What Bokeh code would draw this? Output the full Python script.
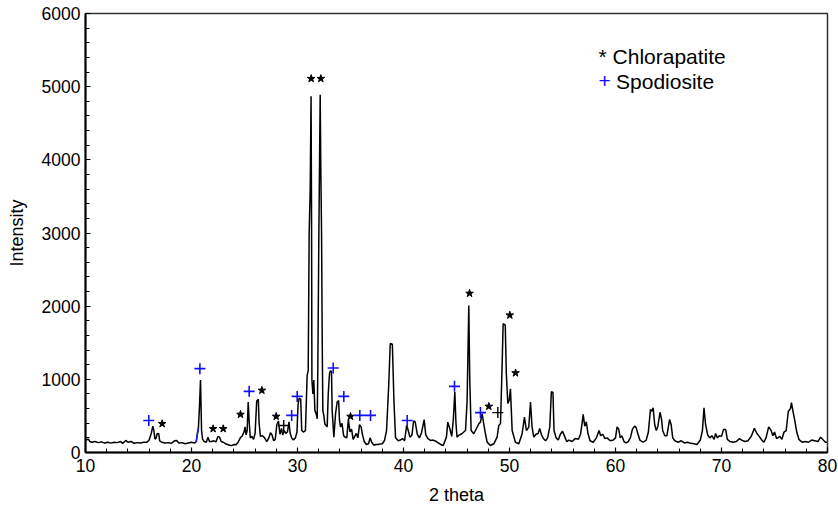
from bokeh.plotting import figure
from bokeh.models import FixedTicker, ColumnDataSource
from bokeh.core.properties import value
from bokeh.embed import file_html
from bokeh.resources import INLINE

# ---- data ----
two_theta = [
    10.0, 10.1, 10.3, 10.4, 10.6, 10.9, 11.2, 11.5, 11.8, 12.1, 12.4, 12.7, 13.0, 13.3, 13.5, 13.8,
    14.0, 14.3, 14.6, 14.9, 15.2, 15.5, 15.8, 16.0, 16.2, 16.35, 16.45, 16.55, 16.65, 16.75, 16.9,
    17.0, 17.2, 17.5, 17.8, 18.1, 18.4, 18.6, 18.8, 19.1, 19.4, 19.7, 20.0, 20.3, 20.45, 20.55,
    20.65, 20.75, 20.85, 20.95, 21.05, 21.2, 21.4, 21.55, 21.7, 21.9, 22.1, 22.3, 22.5, 22.65, 22.8,
    23.0, 23.2, 23.4, 23.6, 23.8, 24.0, 24.2, 24.4, 24.6, 24.8, 24.95, 25.05, 25.15, 25.25, 25.35,
    25.45, 25.55, 25.7, 25.85, 26.0, 26.15, 26.3, 26.38, 26.5, 26.7, 26.9, 27.1, 27.3, 27.45, 27.6,
    27.75, 27.9, 28.05, 28.2, 28.35, 28.5, 28.6, 28.75, 28.9, 29.05, 29.2, 29.3, 29.45, 29.6, 29.8,
    29.95, 30.05, 30.15, 30.3, 30.4, 30.55, 30.75, 30.91, 31.01, 31.1, 31.2, 31.28, 31.33, 31.36,
    31.45, 31.54, 31.64, 31.76, 31.86, 31.92, 32.01, 32.14, 32.2, 32.27, 32.33, 32.39, 32.49, 32.58,
    32.8, 32.9, 33.02, 33.12, 33.21, 33.27, 33.43, 33.59, 33.74, 33.88, 33.96, 34.06, 34.2, 34.35,
    34.5, 34.65, 34.8, 34.95, 35.1, 35.25, 35.4, 35.55, 35.7, 35.85, 36.0, 36.15, 36.3, 36.5, 36.7,
    36.85, 37.0, 37.2, 37.4, 37.6, 37.8, 38.0, 38.2, 38.4, 38.6, 38.75, 38.95, 39.1, 39.25, 39.5,
    39.7, 39.9, 40.1, 40.3, 40.45, 40.6, 40.8, 40.95, 41.1, 41.3, 41.5, 41.7, 41.95, 42.1, 42.3,
    42.55, 42.8, 43.1, 43.5, 43.75, 44.05, 44.18, 44.37, 44.55, 44.7, 44.84, 44.95, 45.05, 45.2,
    45.5, 45.85, 46.0, 46.16, 46.25, 46.38, 46.63, 46.95, 47.1, 47.26, 47.42, 47.57, 47.73, 47.89,
    48.2, 48.52, 48.83, 48.99, 49.15, 49.3, 49.4, 49.6, 49.7, 49.84, 49.97, 50.09, 50.25, 50.56,
    50.88, 51.19, 51.41, 51.6, 51.82, 51.98, 52.13, 52.29, 52.5, 52.7, 52.85, 53.0, 53.2, 53.4,
    53.6, 53.8, 53.95, 54.1, 54.2, 54.4, 54.6, 54.8, 55.0, 55.2, 55.4, 55.6, 55.9, 56.2, 56.5,
    56.7, 56.85, 56.95, 57.1, 57.25, 57.4, 57.6, 57.9, 58.2, 58.45, 58.6, 58.8, 59.0, 59.2, 59.5,
    59.8, 60.0, 60.15, 60.3, 60.45, 60.6, 60.8, 61.0, 61.2, 61.4, 61.6, 61.8, 61.95, 62.1, 62.3,
    62.6, 62.9, 63.1, 63.3, 63.4, 63.55, 63.7, 63.85, 64.0, 64.2, 64.35, 64.45, 64.65, 64.85, 65.1,
    65.25, 65.4, 65.6, 65.9, 66.2, 66.5, 66.8, 67.1, 67.4, 67.7, 68.0, 68.2, 68.35, 68.5, 68.7,
    68.9, 69.1, 69.3, 69.45, 69.6, 69.8, 70.0, 70.2, 70.4, 70.55, 70.8, 71.1, 71.4, 71.7, 71.9,
    72.2, 72.5, 72.8, 73.1, 73.3, 73.5, 73.8, 74.0, 74.2, 74.45, 74.65, 74.85, 75.0, 75.2, 75.5,
    75.7, 75.9, 76.1, 76.3, 76.5, 76.6, 76.75, 76.9, 77.1, 77.3, 77.6, 77.9, 78.2, 78.5, 78.8,
    79.1, 79.35, 79.6, 79.8, 80.0,
]
intensity = [
    160, 178, 180, 150, 140, 150, 135, 145, 130, 140, 128, 140, 135, 150, 125, 165,
    140, 150, 125, 135, 130, 140, 140, 170, 260, 360, 300, 185, 190, 255, 260,
    160, 140, 130, 135, 125, 160, 165, 130, 135, 120, 130, 140, 130, 150, 250,
    330, 620, 990, 300, 180, 150, 140, 210, 150, 150, 160, 145, 220, 210, 150,
    140, 120, 110, 100, 95, 110, 105, 140, 200, 230, 280, 350, 240, 300, 690,
    400, 200, 220, 180, 260, 700, 730, 400, 220, 230, 200, 150, 200, 270, 240,
    160, 180, 380, 430, 250, 330, 240, 300, 260, 280, 420, 270, 200, 170, 200,
    280, 650, 740, 730, 300, 280, 300, 1055, 1120, 3000, 3600, 4870, 3000, 990,
    800, 990, 575, 530, 460, 1170, 2900, 4890, 3860, 3000, 1580, 575, 500, 390,
    350, 800, 1080, 1120, 1100, 575, 210, 530, 690, 710, 440, 350, 400, 230,
    210, 200, 450, 280, 320, 180, 220, 260, 200, 380, 350, 230, 150, 110, 120,
    200, 140, 100, 110, 110, 115, 120, 160, 300, 900, 1490, 1480, 700, 200, 160,
    170, 190, 160, 370, 300, 210, 240, 430, 420, 250, 200, 270, 450, 240, 190,
    165, 170, 150, 110, 96, 210, 415, 325, 220, 450, 826, 400, 210, 233,
    256, 300, 700, 2010, 1000, 300, 256, 347, 392, 415, 530, 392, 256, 142,
    96, 119, 210, 370, 392, 1170, 1760, 1740, 1080, 670, 710, 870, 300, 140,
    120, 256, 484, 300, 347, 690, 347, 210, 250, 260, 330, 250, 190, 160,
    200, 350, 830, 820, 300, 200, 170, 250, 290, 220, 150, 170, 150, 190, 180,
    250, 400, 520, 360, 420, 260, 160, 140, 200, 300, 230, 250, 190, 200, 160,
    170, 200, 350, 320, 200, 230, 150, 130, 150, 200, 320, 360, 340, 260, 170,
    140, 170, 280, 590, 560, 610, 380, 300, 360, 550, 450, 300, 230, 230, 450,
    380, 200, 160, 140, 160, 130, 140, 125, 120, 110, 170, 300, 610, 380, 240,
    200, 230, 180, 260, 200, 230, 220, 320, 310, 180, 150, 140, 150, 190, 170,
    150, 160, 220, 330, 270, 230, 170, 140, 200, 350, 310, 230, 280, 190, 220,
    180, 280, 300, 560, 600, 680, 560, 450, 280, 180, 140, 150, 140, 170, 160,
    150, 210, 170, 140, 140,
]

# short blue trace fragment visible under the black pattern
blue_x = [20.45, 20.55, 20.65]
blue_y = [150, 250, 330]

# Chlorapatite (*) marker positions
chl_x = [17.23, 22.04, 22.99, 24.62, 26.64, 27.99, 31.29, 32.2, 35.0, 46.23, 48.05, 50.03, 50.57]
chl_y = [393, 324, 324, 520, 849, 493, 5110, 5110, 493, 2174, 630, 1877, 1087]

# Spodiosite (+) marker positions
spo_x = [15.97, 20.79, 25.44, 29.45, 29.97, 33.37, 34.37, 35.88, 36.89, 40.35, 44.81, 47.26]
spo_y = [438, 1146, 836, 507, 767, 1155, 767, 507, 507, 438, 904, 545]

# unlabelled black + marks
oth_x = [28.7, 48.9]
oth_y = [370, 545]

x_ticks = [10, 20, 30, 40, 50, 60, 70, 80]
x_minor = [12, 14, 16, 18, 22, 24, 26, 28, 32, 34, 36, 38, 42, 44, 46, 48, 52, 54, 56, 58,
           62, 64, 66, 68, 72, 74, 76, 78]
y_ticks = [0, 1000, 2000, 3000, 4000, 5000, 6000]
y_minor = [v for v in range(0, 6001, 200) if v % 1000]

legend_labels = ["* Chlorapatite", "+", "Spodiosite"]
x_title = "2 theta"
y_title = "Intensity"

FONT = "Liberation Sans"

p = figure(width=838, height=510, x_range=(10, 80), y_range=(0, 6000),
           toolbar_location=None, output_backend="svg",
           min_border_left=85, min_border_right=11, min_border_top=13, min_border_bottom=58)
p.background_fill_color = "white"
p.border_fill_color = "white"
p.outline_line_color = "#333333"
p.outline_line_width = 1.5
p.xgrid.visible = False
p.ygrid.visible = False

p.xaxis.ticker = FixedTicker(ticks=x_ticks, minor_ticks=x_minor)
p.yaxis.ticker = FixedTicker(ticks=y_ticks, minor_ticks=y_minor)
for ax in (p.xaxis, p.yaxis):
    ax.axis_line_width = 2
    ax.axis_line_color = "black"
    ax.major_tick_in = 5
    ax.major_tick_out = 0
    ax.minor_tick_in = 4
    ax.minor_tick_out = 0
    ax.major_tick_line_color = "black"
    ax.minor_tick_line_color = "black"
    ax.major_tick_line_width = 1.2
    ax.minor_tick_line_width = 1
    ax.major_label_text_font = FONT
    ax.major_label_text_font_size = "17.5px"
    ax.major_label_text_color = "black"
    ax.axis_label_text_font = FONT
    ax.axis_label_text_font_size = "18px"
    ax.axis_label_text_font_style = "normal"
    ax.axis_label_text_color = "black"

p.xaxis.axis_label = x_title
p.yaxis.axis_label = y_title
p.xaxis.major_label_standoff = 6
p.yaxis.major_label_standoff = 5
p.xaxis.axis_label_standoff = 10
p.yaxis.axis_label_standoff = 12

src = ColumnDataSource(data=dict(x=two_theta, y=intensity))
p.line("x", "y", source=src, line_color="black", line_width=1.5)
p.line(blue_x, blue_y, line_color="#1a1aff", line_width=1.5)

p.scatter(chl_x, chl_y, marker="star", size=8, fill_color="black", line_color="black")
p.scatter(spo_x, spo_y, marker="cross", size=11, line_color="#1010ff", line_width=1.6)
p.scatter(oth_x, oth_y, marker="cross", size=11, line_color="black", line_width=1.4)

# legend text
p.text(x=[58.4], y=[5407], text=[legend_labels[0]], text_font=value(FONT),
       text_font_size="21px", text_color="black", text_baseline="alphabetic", text_align="left")
p.text(x=[58.4], y=[5073], text=[legend_labels[1]], text_font=value(FONT),
       text_font_size="21px", text_color="#1010ff", text_baseline="alphabetic", text_align="left")
p.text(x=[60.05], y=[5073], text=[legend_labels[2]], text_font=value(FONT),
       text_font_size="21px", text_color="black", text_baseline="alphabetic", text_align="left")

open("out.html", "w").write(file_html(p, INLINE))
